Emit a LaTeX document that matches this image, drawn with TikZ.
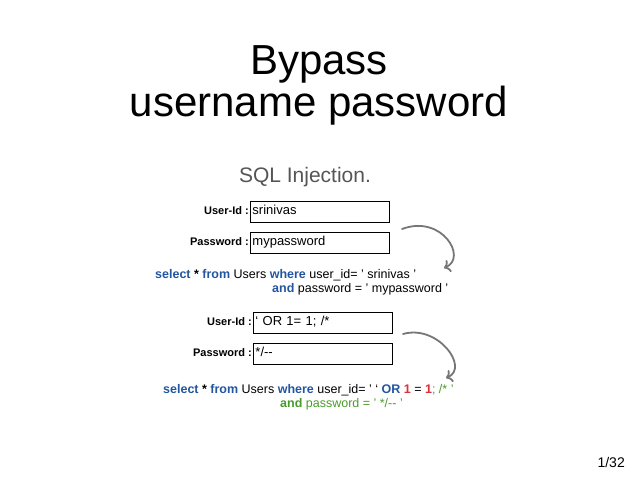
\documentclass[tikz,border=0pt]{standalone}
\usepackage{fontspec}
\setmainfont{Liberation Sans}
\usetikzlibrary{arrows,arrows.meta,positioning}
\definecolor{kwblue}{HTML}{2356A0}
\definecolor{kwred}{HTML}{D9303A}
\definecolor{kwgreen}{HTML}{4A9A2C}
\definecolor{titlegray}{HTML}{555555}
\definecolor{arrowgray}{HTML}{767676}
\newcommand{\kw}[1]{\textbf{\textcolor{kwblue}{#1}}}

\begin{document}
\begin{tikzpicture}[x=1pt, y=-1pt]
\useasboundingbox (0,0) rectangle (638,479);
\tikzstyle{every node} = [inner sep=0pt]
\tikzstyle{field} = [draw, line width=0.9pt, anchor=north west, minimum width=139pt, minimum height=21pt, text width=135pt, inner xsep=2pt, align=left, text height=9pt, text depth=3pt, font=\fontsize{13}{14}\selectfont]
\tikzstyle{lbl} = [anchor=base east, font=\bfseries\fontsize{11}{12}\selectfont]
\tikzstyle{sql} = [anchor=base west, font=\fontsize{12.5}{14}\selectfont]
\tikzstyle{hook} = [arrowgray, line width=1.8pt, line cap=round, -{To[length=6pt,width=13pt]}]
% title
\node[anchor=base, font=\fontsize{42}{46}\selectfont] (t1) at (319,74) {Bypass};
\node[anchor=base, font=\fontsize{42}{46}\selectfont] (t2) at (319,116) {username password};
\node[anchor=base, titlegray, font=\fontsize{21}{24}\selectfont] (sqli) at (305,182) {SQL Injection.};
% first login
\node[field] (u1) at (250,201) {srinivas};
\node[field] (p1) at (250,232) {mypassword};
\node[lbl, xshift=-1pt] (lu1) at (u1.base west) {User-Id :};
\node[lbl, xshift=-1pt] (lp1) at (p1.base west) {Password :};
\node[sql] (q1) at (155,278) {\kw{select} \textbf{*} \kw{from} Users \kw{where} user\_id= ’ srinivas ’};
\node[sql] (q2) at (272,292) {\kw{and} password = ’ mypassword ’};
% injected login
\node[field] (u2) at (253,312) {‘ OR 1= 1; /*};
\node[field] (p2) at (253,343) {*/-{}-};
\node[lbl, xshift=-1pt] (lu2) at (u2.base west) {User-Id :};
\node[lbl, xshift=-1pt] (lp2) at (p2.base west) {Password :};
\node[sql] (q3) at (163,393) {\kw{select} \textbf{*} \kw{from} Users \kw{where} user\_id= ’ ‘ \kw{OR} \textbf{\textcolor{kwred}{1}} = \textbf{\textcolor{kwred}{1}}\textcolor{kwgreen}{; /* ’}};
\node[sql, kwgreen] (q4) at (280,407) {\textbf{and} password = ’ */-{}- ’};
% arrows
\coordinate (a1s) at (402,229);
\coordinate (a1e) at (444,268);
\coordinate (a2s) at (403,334);
\coordinate (a2e) at (446,378);
\draw[hook] (a1s) .. controls (442,214) and (468,258) .. (a1e);
\draw[hook] (a2s) .. controls (438,324) and (470,368) .. (a2e);
% page number
\node[anchor=base east, font=\fontsize{14}{16}\selectfont] (pg) at (625,467) {1/32};
\end{tikzpicture}
\end{document}
